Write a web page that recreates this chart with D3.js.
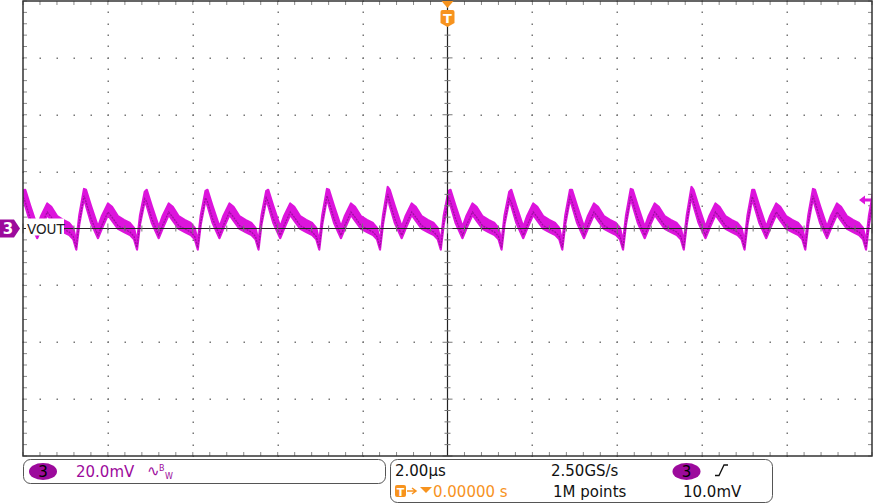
<!DOCTYPE html>
<html>
<head>
<meta charset="utf-8">
<script src="https://cdn.jsdelivr.net/npm/d3@7"></script>
<style>
  html, body { margin: 0; padding: 0; background: #fff; }
  svg { display: block; }
</style>
</head>
<body>
<div id="chart"></div>
<script>
// scope settings
var timeRange = [-10, 10];      // us, 2.00us/div x 10 div
var voltRange = [-80, 80];      // mV, 20.0mV/div x 8 div
var timeTicks = [-8, -6, -4, -2, 0, 2, 4, 6, 8];
var voltTicks = [-60, -40, -20, 0, 20, 40, 60];

// one switching cycle of VOUT, relative to its big spike (us, mV, noise half width mV)
var cycleDt = [0, 0.047, 0.165, 0.330, 0.424, 0.565, 0.660, 0.801, 0.942, 1.084, 1.178, 1.249, 1.319];
var cycleMv = [12.2, 10.8, 5.0, -1.4, 2.3, 6.8, 5.2, 2.1, 0.9, -0.2, -1.8, -6.0, 3.0];
var cycleHw = [1.6, 2.8, 3.0, 2.0, 2.2, 2.0, 2.4, 2.2, 2.1, 2.1, 2.0, 1.4, 1.6];

// spike times and heights, read cycle by cycle
var peakTimes = [-9.994, -8.563, -7.132, -5.701, -4.270, -2.839, -1.408, 0.024, 1.455, 2.886, 4.317, 5.748, 7.179, 8.610, 10.04];
var peakMv = [11.8, 12.3, 11.3, 11.6, 11.6, 12.3, 13.0, 11.6, 11.3, 12.0, 12.3, 13.0, 12.0, 12.3, 12.3];

var trigLevel = 10.0; // mV

var w = 875, h = 504;
var X0 = 23, X1 = 872, Y0 = 1, Y1 = 456;

var purple = "#9c0a9c", magenta = "#dc14dc", dark = "#4a0050", orange = "#f7931e";
var font = "DejaVu Sans, Verdana, sans-serif";

var svg = d3.select("#chart").append("svg").attr("width", w).attr("height", h);

var x = d3.scaleLinear().domain(timeRange).range([X0, X1]);
var y = d3.scaleLinear().domain(voltRange).range([Y1, Y0]);

// build the trace from the cycles
var trace = [];
peakTimes.forEach(function(tp, k){
	cycleDt.forEach(function(dt, i){
		trace.push({t: tp + dt, v: i == 0 ? peakMv[k] : cycleMv[i], hw: cycleHw[i]});
	});
});

// ---------------- grid ----------------
var grid = svg.append("g");
var minorT = d3.range(-10, 10.001, 0.4);
var minorV = d3.range(-80, 80.001, 4);

timeTicks.filter(function(t){ return t != 0; }).forEach(function(t){
	grid.selectAll(null).data(minorV).enter().append("rect")
		.attr("x", Math.round(x(t)) - 0.5).attr("y", function(d){ return Math.round(y(d)) - 0.5; })
		.attr("width", 1.5).attr("height", 1.5).attr("fill", "#777");
});
voltTicks.filter(function(v){ return v != 0; }).forEach(function(v){
	grid.selectAll(null).data(minorT).enter().append("rect")
		.attr("x", function(d){ return Math.round(x(d)) - 0.5; }).attr("y", Math.round(y(v)) - 0.5)
		.attr("width", 1.5).attr("height", 1.5).attr("fill", "#777");
});

// border ticks
grid.selectAll(null).data(minorT).enter().append("line")
	.attr("x1", function(d){ return x(d); }).attr("x2", function(d){ return x(d); })
	.attr("y1", Y0).attr("y2", Y0 + 4).attr("stroke", "#888");
grid.selectAll(null).data(minorT).enter().append("line")
	.attr("x1", function(d){ return x(d); }).attr("x2", function(d){ return x(d); })
	.attr("y1", Y1).attr("y2", Y1 - 4).attr("stroke", "#888");
grid.selectAll(null).data(minorV).enter().append("line")
	.attr("x1", X0).attr("x2", X0 + 4)
	.attr("y1", function(d){ return y(d); }).attr("y2", function(d){ return y(d); }).attr("stroke", "#888");
grid.selectAll(null).data(minorV).enter().append("line")
	.attr("x1", X1).attr("x2", X1 - 4)
	.attr("y1", function(d){ return y(d); }).attr("y2", function(d){ return y(d); }).attr("stroke", "#888");

// ---------------- trace ----------------
svg.append("clipPath").attr("id", "plotclip").append("rect")
	.attr("x", X0).attr("y", Y0).attr("width", X1 - X0).attr("height", Y1 - Y0);

var tr = svg.append("g").attr("clip-path", "url(#plotclip)");

var band = d3.area()
	.x(function(d){ return x(d.t); })
	.y0(function(d){ return y(d.v - d.hw); })
	.y1(function(d){ return y(d.v + d.hw); });

tr.append("path").datum(trace).attr("d", band)
	.attr("fill", magenta).attr("stroke", magenta).attr("stroke-width", 2.2).attr("stroke-linejoin", "round");

var core = d3.line()
	.x(function(d){ return x(d.t); })
	.y(function(d){ return y(d.v - d.hw * 0.5); });

tr.append("path").datum(trace).attr("d", core)
	.attr("fill", "none").attr("stroke", dark).attr("stroke-width", 1.3).attr("opacity", 0.4)
	.attr("stroke-dasharray", "2,1");

// ---------------- center cross + frame ----------------
var cx = x(0), cy = y(0);
svg.append("line").attr("x1", cx).attr("x2", cx).attr("y1", Y0).attr("y2", Y1).attr("stroke", "#222").attr("stroke-width", 1.2);
svg.append("line").attr("x1", X0).attr("x2", X1).attr("y1", cy).attr("y2", cy).attr("stroke", "#222").attr("stroke-width", 1.2);

svg.selectAll(null).data(minorV).enter().append("line")
	.attr("x1", function(d){ return cx - (d % 20 == 0 ? 5 : 3); })
	.attr("x2", function(d){ return cx + (d % 20 == 0 ? 5 : 3); })
	.attr("y1", function(d){ return y(d); }).attr("y2", function(d){ return y(d); })
	.attr("stroke", "#777");
svg.selectAll(null).data(minorT).enter().append("line")
	.attr("y1", function(d){ return cy - (Math.abs(d % 2) < 0.01 ? 5 : 3); })
	.attr("y2", function(d){ return cy + (Math.abs(d % 2) < 0.01 ? 5 : 3); })
	.attr("x1", function(d){ return x(d); }).attr("x2", function(d){ return x(d); })
	.attr("stroke", "#777");

svg.append("rect").attr("x", X0).attr("y", Y0).attr("width", X1 - X0).attr("height", Y1 - Y0)
	.attr("fill", "none").attr("stroke", "#333").attr("stroke-width", 1.5);

// VOUT label
svg.append("rect").attr("x", 26).attr("y", cy - 10).attr("width", 38).attr("height", 17).attr("fill", "#fff");
svg.append("text").attr("x", 27).attr("y", cy + 5.5).text("VOUT")
	.attr("font-family", font).attr("font-size", "13.5px").attr("fill", "#222");

// channel 3 ground marker
svg.append("path")
	.attr("d", "M0," + (cy - 9) + " L14," + (cy - 9) + " L20," + cy + " L14," + (cy + 9) + " L0," + (cy + 9) + " Z")
	.attr("fill", purple);
svg.append("text").attr("x", 8).attr("y", cy + 5.5).attr("text-anchor", "middle").text("3")
	.attr("font-family", font).attr("font-size", "15px").attr("font-weight", "bold").attr("fill", "#fff");

// trigger level marker (right)
var ty = y(trigLevel);
svg.append("path")
	.attr("d", "M859," + ty + " L865," + (ty - 4.5) + " L865," + (ty - 1.5) + " L871," + (ty - 1.5) + " L871," + (ty + 1.5) + " L865," + (ty + 1.5) + " L865," + (ty + 4.5) + " Z")
	.attr("fill", magenta);

// trigger position marker (top)
svg.append("path").attr("d", "M" + (cx - 6) + ",1 L" + (cx + 6) + ",1 L" + cx + ",8 Z").attr("fill", orange);
svg.append("path")
	.attr("d", "M" + (cx - 7) + ",12 Q" + (cx - 7) + ",10 " + (cx - 5) + ",10 L" + (cx + 5) + ",10 Q" + (cx + 7) + ",10 " + (cx + 7) + ",12 L" + (cx + 7) + ",23 L" + cx + ",27 L" + (cx - 7) + ",23 Z")
	.attr("fill", orange);
svg.append("text").attr("x", cx).attr("y", 23).attr("text-anchor", "middle").text("T")
	.attr("font-family", font).attr("font-size", "13px").attr("font-weight", "bold").attr("fill", "#fff");

// ---------------- readout boxes ----------------
var rb = svg.append("g").attr("font-family", font).attr("font-size", "15px");

rb.append("rect").attr("x", 23.5).attr("y", 459.5).attr("width", 362).attr("height", 24).attr("rx", 7)
	.attr("fill", "none").attr("stroke", "#555");
rb.append("rect").attr("x", 390.5).attr("y", 459.5).attr("width", 382).attr("height", 43).attr("rx", 7)
	.attr("fill", "none").attr("stroke", "#555");

rb.append("ellipse").attr("cx", 43).attr("cy", 471.5).attr("rx", 14).attr("ry", 8.5).attr("fill", purple);
rb.append("text").attr("x", 43).attr("y", 477).attr("text-anchor", "middle").text("3").attr("fill", "#000");
rb.append("text").attr("x", 76).attr("y", 477).text("20.0mV").attr("fill", purple);
rb.append("text").attr("x", 147).attr("y", 476).text("∿").attr("fill", purple);
rb.append("text").attr("x", 159).attr("y", 471).text("B").attr("font-size", "8px").attr("fill", purple);
rb.append("text").attr("x", 165).attr("y", 479).text("W").attr("font-size", "8px").attr("fill", purple);

rb.append("text").attr("x", 395).attr("y", 476).text("2.00µs").attr("fill", "#111");
rb.append("text").attr("x", 551).attr("y", 476).text("2.50GS/s").attr("fill", "#111");
rb.append("ellipse").attr("cx", 686.5).attr("cy", 471.5).attr("rx", 14).attr("ry", 8.5).attr("fill", purple);
rb.append("text").attr("x", 686.5).attr("y", 477).attr("text-anchor", "middle").text("3").attr("fill", "#000");
rb.append("path").attr("d", "M715,475.5 L719,475.5 L724,465 L728,465").attr("fill", "none").attr("stroke", "#111").attr("stroke-width", 1.3);

rb.append("rect").attr("x", 395).attr("y", 485).attr("width", 11).attr("height", 12).attr("rx", 2).attr("fill", orange);
rb.append("text").attr("x", 400.5).attr("y", 495.5).attr("text-anchor", "middle").text("T").attr("font-size", "11px").attr("font-weight", "bold").attr("fill", "#fff");
rb.append("path").attr("d", "M407,491 L415,491 M412,488 L416,491 L412,494").attr("fill", "none").attr("stroke", orange).attr("stroke-width", 1.5);
rb.append("path").attr("d", "M420,487 L432,487 L426,493 Z").attr("fill", orange);
rb.append("text").attr("x", 433).attr("y", 497).text("0.00000 s").attr("fill", orange);
rb.append("text").attr("x", 553).attr("y", 497).text("1M points").attr("fill", "#111");
rb.append("text").attr("x", 683).attr("y", 497).text("10.0mV").attr("fill", "#111");
</script>
</body>
</html>
